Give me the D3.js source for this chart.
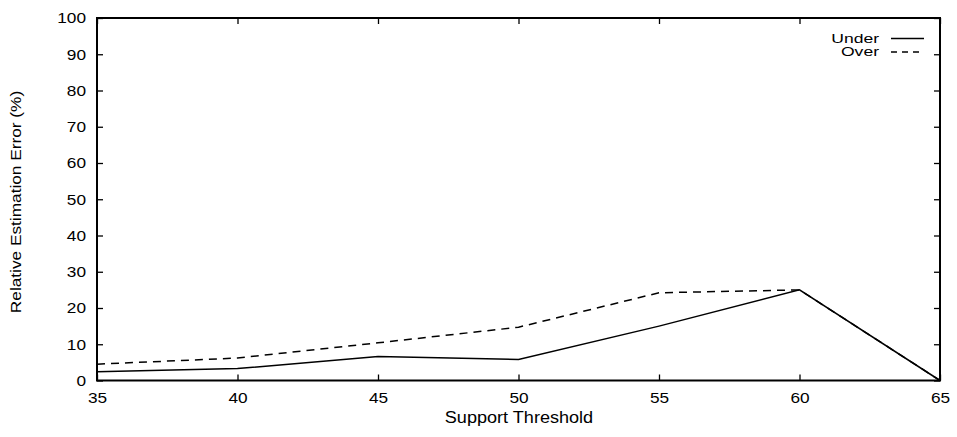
<!DOCTYPE html>
<html>
<head>
<meta charset="utf-8">
<script src="https://cdn.jsdelivr.net/npm/d3@7"></script>
<style>
body { margin: 0; background: #fff; }
text { font-family: "Liberation Sans", Arial, sans-serif; }
</style>
</head>
<body>
<script>
var thresholds = [35, 40, 45, 50, 55, 60, 65]
var underErr = [2.4, 3.3, 6.6, 5.8, 15.0, 25.0, 0]
var overErr = [4.5, 6.2, 10.4, 14.7, 24.2, 25.0, 0]
var xTicks = [35, 40, 45, 50, 55, 60, 65]
var yTicks = [0, 10, 20, 30, 40, 50, 60, 70, 80, 90, 100]

var W = 957, H = 437
var plotL = 97, plotR = 940, plotT = 18, plotB = 380.5

// the original fonts are a bit wider than Liberation Sans
function widen(sel, k) {
    sel.each(function() {
        var ax = +this.getAttribute("x") || 0
        var old = this.getAttribute("transform") || ""
        d3.select(this).attr("transform", old + " translate(" + ax + ",0) scale(" + k + ",1) translate(" + (-ax) + ",0)")
    })
}

var svg = d3.select("body").append("svg")
    .attr("width", W)
    .attr("height", H)

var x = d3.scaleLinear().domain([35, 65]).range([plotL, plotR])
var y = d3.scaleLinear().domain([0, 100]).range([plotB, plotT])

// ticks on all sides, pointing in
svg.append("g")
    .attr("transform", "translate(0," + plotB + ")")
    .call(d3.axisBottom(x).tickValues(xTicks).tickSize(-6).tickPadding(12))
svg.append("g")
    .attr("transform", "translate(0," + plotT + ")")
    .call(d3.axisTop(x).tickValues(xTicks).tickSize(-6).tickFormat(""))
svg.append("g")
    .attr("transform", "translate(" + plotL + ",0)")
    .call(d3.axisLeft(y).tickValues(yTicks).tickSize(-6).tickPadding(11))
svg.append("g")
    .attr("transform", "translate(" + plotR + ",0)")
    .call(d3.axisRight(y).tickValues(yTicks).tickSize(-6).tickFormat(""))

svg.selectAll(".domain").remove()
svg.selectAll(".tick line").attr("stroke", "#000").attr("stroke-width", 1.3)
svg.selectAll(".tick text")
    .attr("font-size", 15)
    .attr("fill", "#000")
    .style("font-family", "Liberation Sans, Arial, sans-serif")
    .call(widen, 1.15)

svg.append("rect")
    .attr("x", plotL)
    .attr("y", plotT)
    .attr("width", plotR - plotL)
    .attr("height", plotB - plotT)
    .attr("fill", "none")
    .attr("stroke", "#000")
    .attr("stroke-width", 2)

var line = d3.line()
    .x(function(d, i) { return x(thresholds[i]) })
    .y(function(d) { return y(d) })

svg.append("path")
    .datum(underErr)
    .attr("d", line)
    .attr("fill", "none")
    .attr("stroke", "#000")
    .attr("stroke-width", 1.5)

svg.append("path")
    .datum(overErr)
    .attr("d", line)
    .attr("fill", "none")
    .attr("stroke", "#000")
    .attr("stroke-width", 1.5)
    .attr("stroke-dasharray", "8,6")

// legend
var legend = [
    {name: "Under", dash: null, yy: 38.5},
    {name: "Over", dash: "6,5", yy: 52}
]
legend.forEach(function(l) {
    svg.append("text")
        .attr("x", 879)
        .attr("y", l.yy + 4.5)
        .attr("text-anchor", "end")
        .attr("font-size", 13.5)
        .text(l.name)
        .call(widen, 1.3)
    svg.append("line")
        .attr("x1", 891)
        .attr("x2", 924)
        .attr("y1", l.yy)
        .attr("y2", l.yy)
        .attr("stroke", "#000")
        .attr("stroke-width", 1.5)
        .attr("stroke-dasharray", l.dash)
})

svg.append("text")
    .attr("x", 519)
    .attr("y", 423)
    .attr("text-anchor", "middle")
    .attr("font-size", 16)
    .text("Support Threshold")
    .call(widen, 1.13)

svg.append("text")
    .attr("transform", "translate(21,202) rotate(-90)")
    .attr("text-anchor", "middle")
    .attr("font-size", 15)
    .text("Relative Estimation Error (%)")
    .call(widen, 1.15)
</script>
</body>
</html>
